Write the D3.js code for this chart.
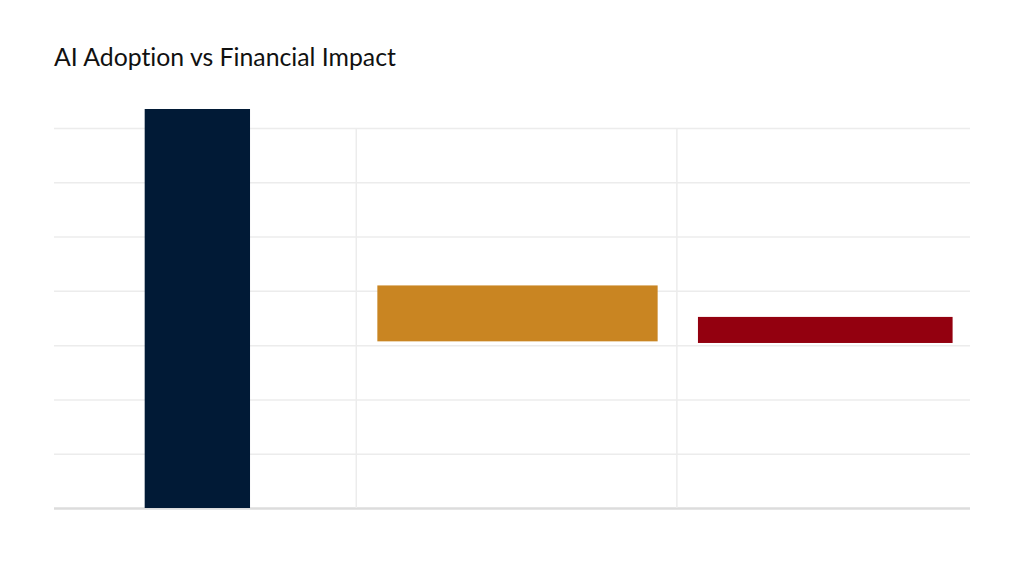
<!DOCTYPE html>
<html>
<head>
<meta charset="utf-8">
<script src="https://cdn.jsdelivr.net/npm/d3@7"></script>
<style>
  html, body { margin: 0; padding: 0; background: #ffffff; }
  svg { display: block; }
</style>
</head>
<body>
<svg id="chart" width="1024" height="576"></svg>
<script>
// ---- data ----
const title = "AI Adoption vs Financial Impact";
const categories = ["AI Adoption", "Financial Impact", "Net Effect"];
const barStart = [0, 30.7, 30.4];        // value where each bar begins
const barEnd = [73.5, 41, 35.2];         // value where each bar ends
const xFrom = [9.9, 35.3, 70.3];         // horizontal extent (0-100 units)
const xTo = [21.4, 65.9, 98.1];
const dividers = [33, 68];               // panel separators (0-100 units)
const yTicks = [0, 10, 20, 30, 40, 50, 60, 70];
const colors = ["#011a36", "#c98522", "#93000f"];

const svg = d3.select("#chart");
const margin = { left: 54, right: 54, top: 128, bottom: 68 };
const W = 1024, H = 576;

const x = d3.scaleLinear().domain([0, 100]).range([margin.left, W - margin.right]);
const y = d3.scaleLinear().domain([0, 70]).range([H - margin.bottom, margin.top]);

// title
svg.append("text")
  .attr("x", 54).attr("y", 66)
  .attr("font-family", "Lato, 'Open Sans', sans-serif")
  .attr("font-size", 24.8)
  .style("font-variant-ligatures", "none")
  .attr("fill", "#111111")
  .text(title);

// horizontal gridlines via axis
const yAxis = d3.axisLeft(y).tickValues(yTicks).tickSize(-(x(100) - x(0))).tickFormat("");
const gy = svg.append("g").attr("transform", `translate(${x(0)},0)`).call(yAxis);
gy.select(".domain").remove();
gy.selectAll(".tick line")
  .attr("stroke", d => d === 0 ? "#dcdcdc" : "#ececec")
  .attr("stroke-width", d => d === 0 ? 2.5 : 1.5);

// vertical dividers
svg.append("g").selectAll("line").data(dividers).join("line")
  .attr("x1", d => x(d)).attr("x2", d => x(d))
  .attr("y1", y(70)).attr("y2", y(0))
  .attr("stroke", "#ececec").attr("stroke-width", 1.5);

// bars
const data = categories.map((c, i) => ({ c, s: barStart[i], e: barEnd[i], x0: xFrom[i], x1: xTo[i], col: colors[i] }));
svg.append("g").selectAll("rect").data(data).join("rect")
  .attr("x", d => x(d.x0))
  .attr("width", d => x(d.x1) - x(d.x0))
  .attr("y", d => y(Math.max(d.s, d.e)))
  .attr("height", d => Math.abs(y(d.s) - y(d.e)))
  .attr("fill", d => d.col);
</script>
</body>
</html>
